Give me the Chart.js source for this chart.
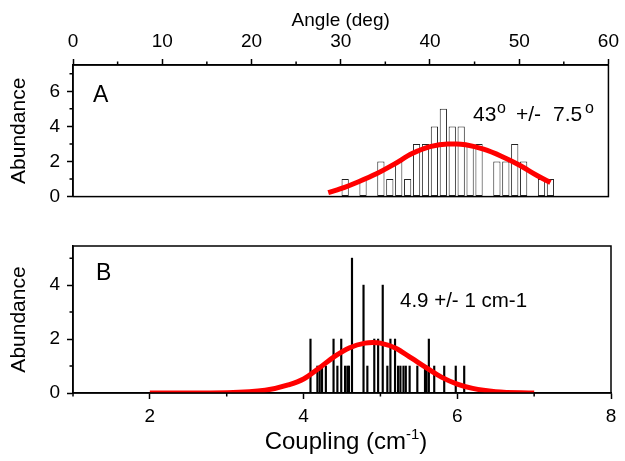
<!DOCTYPE html>
<html>
<head>
<meta charset="utf-8">
<script src="https://cdn.jsdelivr.net/npm/chart.js@4.4.0/dist/chart.umd.min.js"></script>
<style>
  body { margin: 0; background: #fff; }
  #wrap { position: relative; width: 625px; height: 461px; }
  canvas { position: absolute; left: 0; }
  #chartA { top: 0; }
  #chartB { top: 225px; }
</style>
</head>
<body>
<div id="wrap">
  <canvas id="chartA" width="625" height="215"></canvas>
  <canvas id="chartB" width="625" height="236"></canvas>
</div>
<script>
// panel A : angle histogram (1 deg bins) + gaussian fit
var angleBins   = [30.5, 31.5, 32.5, 33.5, 34.5, 35.5, 36.5, 37.5, 38.5, 39.5, 40.5, 41.5,
                   42.5, 43.5, 44.5, 45.5, 46.5, 47.5, 48.5, 49.5, 50.5, 51.5, 52.5, 53.5];
var angleCounts = [1, 0, 1, 0, 2, 1, 2, 1, 3, 3, 4, 5,
                   4, 4, 3, 3, 0, 2, 2, 3, 2, 0, 1, 1];
var angleFitX = [28.6, 30, 32, 34, 36, 38, 40, 42, 43, 44, 46, 48, 50, 52, 53.5];
var angleFitY = [0.22, 0.45, 0.85, 1.3, 1.85, 2.45, 2.85, 3.0, 3.0, 2.95, 2.7, 2.3, 1.8, 1.2, 0.8];
var angleTicks = [0, 10, 20, 30, 40, 50, 60];
var angleMinor = [5, 15, 25, 35, 45, 55];
var abundTicksA = [0, 2, 4, 6];
var abundMinorA = [1, 3, 5, 7];

// panel B : coupling stick histogram + gaussian fit
var couplingPos = [4.09, 4.18, 4.21, 4.24, 4.29, 4.39, 4.44, 4.49, 4.54, 4.57, 4.59, 4.63,
                   4.78, 4.83, 4.92, 4.97, 5.03, 5.09, 5.13, 5.19, 5.23, 5.26, 5.30, 5.33,
                   5.38, 5.48, 5.58, 5.60, 5.63, 5.70, 5.83, 5.98, 6.09];
var couplingCounts = [2, 1, 1, 1, 1, 2, 1, 2, 1, 1, 1, 5,
                      4, 1, 2, 2, 4, 1, 2, 2, 1, 1, 1, 1,
                      1, 1, 1, 1, 2, 1, 1, 1, 1];
var couplingFitX = [2.0, 2.5, 3.0, 3.5, 3.8, 4.0, 4.2, 4.4, 4.6, 4.8, 4.9, 5.0, 5.2, 5.4, 5.6, 5.8, 6.0, 6.2, 6.5, 7.0];
var couplingFitY = [0, 0, 0.01, 0.1, 0.3, 0.52, 0.92, 1.35, 1.68, 1.85, 1.87, 1.85, 1.66, 1.3, 0.93, 0.58, 0.33, 0.17, 0.05, 0];
var couplingTicks = [2, 4, 6, 8];
var couplingMinor = [1, 3, 5, 7];
var abundTicksB = [0, 2, 4];
var abundMinorB = [1, 3, 5];

Chart.defaults.font.family = "'Liberation Sans', Arial, sans-serif";
Chart.defaults.color = '#000';

function xy(xs, ys) {
  return xs.map(function (v, i) { return { x: v, y: ys[i] }; });
}
function tickSetter(vals) {
  return function (scale) { scale.ticks = vals.map(function (v) { return { value: v }; }); };
}

var axisGrid = { drawOnChartArea: false, drawTicks: true, tickLength: 6, tickColor: '#000', tickWidth: 1.5, offset: false };
var axisBorder = { display: true, color: '#000', width: 1.5 };

// box around plot area + minor ticks
var framePlugin = {
  id: 'frame',
  afterDatasetsDraw: function (chart, args, opts) {
    var a = chart.chartArea, ctx = chart.ctx;
    var sx = chart.scales.x, sy = chart.scales.y;
    ctx.save();
    ctx.strokeStyle = '#000';
    ctx.lineWidth = 1.5;
    ctx.strokeRect(a.left, a.top, a.right - a.left, a.bottom - a.top);
    ctx.beginPath();
    opts.xMinor.forEach(function (v) {
      var px = sx.getPixelForValue(v);
      if (opts.xSide === 'top') { ctx.moveTo(px, a.top); ctx.lineTo(px, a.top - 3.5); }
      else { ctx.moveTo(px, a.bottom); ctx.lineTo(px, a.bottom + 3.5); }
    });
    opts.yMinor.forEach(function (v) {
      var py = sy.getPixelForValue(v);
      ctx.moveTo(a.left, py); ctx.lineTo(a.left - 3.5, py);
    });
    ctx.stroke();
    ctx.restore();
  }
};

// free text (labels, fit results)
var textPlugin = {
  id: 'notes',
  afterDraw: function (chart, args, opts) {
    var ctx = chart.ctx;
    ctx.save();
    ctx.fillStyle = '#000';
    ctx.textBaseline = 'alphabetic';
    ctx.textAlign = 'left';
    opts.items.forEach(function (it) {
      ctx.font = it.size + "px 'Liberation Sans', Arial, sans-serif";
      ctx.fillText(it.t, it.x, it.y);
    });
    if (opts.unitTitle) {
      var u = opts.unitTitle;
      var f1 = u.size + "px 'Liberation Sans', Arial, sans-serif";
      var f2 = u.supSize + "px 'Liberation Sans', Arial, sans-serif";
      ctx.font = f1; var w1 = ctx.measureText(u.main).width; var w3 = ctx.measureText(u.tail).width;
      ctx.font = f2; var w2 = ctx.measureText(u.sup).width;
      var x0 = u.cx - (w1 + w2 + w3) / 2;
      ctx.font = f1; ctx.fillText(u.main, x0, u.y);
      ctx.font = f2; ctx.fillText(u.sup, x0 + w1, u.y - u.rise);
      ctx.font = f1; ctx.fillText(u.tail, x0 + w1 + w2, u.y);
    }
    ctx.restore();
  }
};

new Chart(document.getElementById('chartA'), {
  type: 'bar',
  data: {
    datasets: [
      {
        type: 'line',
        data: xy(angleFitX, angleFitY),
        borderColor: '#ff0000',
        borderWidth: 5,
        pointRadius: 0,
        cubicInterpolationMode: 'monotone',
        order: 0
      },
      {
        type: 'bar',
        data: xy(angleBins, angleCounts),
        backgroundColor: '#fff',
        borderColor: '#222',
        borderWidth: 1,
        borderSkipped: false,
        barPercentage: 0.9,
        categoryPercentage: 0.9,
        order: 1
      }
    ]
  },
  options: {
    responsive: false,
    animation: false,
    layout: { padding: { right: 14, bottom: 11, top: 0, left: 0 } },
    plugins: {
      legend: { display: false },
      tooltip: { enabled: false },
      frame: { xSide: 'top', xMinor: angleMinor, yMinor: abundMinorA },
      notes: {
        items: [
          { t: 'A', x: 93, y: 102, size: 23 },
          { t: '43', x: 473, y: 121, size: 21 },
          { t: 'o', x: 497, y: 113, size: 16 },
          { t: '+/-', x: 516, y: 121, size: 21 },
          { t: '7.5', x: 553, y: 121, size: 21 },
          { t: 'o', x: 585, y: 113, size: 16 }
        ]
      }
    },
    scales: {
      x: {
        type: 'linear', position: 'top', min: 0, max: 60, offset: false,
        afterBuildTicks: tickSetter(angleTicks),
        afterFit: function (s) { s.height = 65; },
        grid: axisGrid, border: axisBorder,
        ticks: { font: { size: 19 }, padding: 6, maxRotation: 0, autoSkip: false },
        title: { display: true, text: 'Angle (deg)', font: { size: 19 }, padding: { top: 9, bottom: 0 } }
      },
      y: {
        min: 0, max: 7.5,
        afterBuildTicks: tickSetter(abundTicksA),
        afterFit: function (s) { s.width = 73; },
        grid: axisGrid, border: axisBorder,
        ticks: { font: { size: 19 }, padding: 7 },
        title: { display: true, text: 'Abundance', font: { size: 21 }, padding: { top: 7, bottom: 0 } }
      }
    }
  },
  plugins: [framePlugin, textPlugin]
});

new Chart(document.getElementById('chartB'), {
  type: 'bar',
  data: {
    datasets: [
      {
        type: 'line',
        data: xy(couplingFitX, couplingFitY),
        borderColor: '#ff0000',
        borderWidth: 5,
        pointRadius: 0,
        cubicInterpolationMode: 'monotone',
        order: 0
      },
      {
        type: 'bar',
        data: xy(couplingPos, couplingCounts),
        backgroundColor: '#000',
        borderWidth: 0,
        barThickness: 1.5,
        order: 1
      }
    ]
  },
  options: {
    responsive: false,
    animation: false,
    layout: { padding: { right: 14, top: 21, left: 0, bottom: 0 } },
    plugins: {
      legend: { display: false },
      tooltip: { enabled: false },
      frame: { xSide: 'bottom', xMinor: couplingMinor, yMinor: abundMinorB },
      notes: {
        items: [
          { t: 'B', x: 96, y: 55, size: 23 },
          { t: '4.9 +/- 1 cm-1', x: 400, y: 82, size: 20.5 }
        ],
        unitTitle: { main: 'Coupling (cm', sup: '-1', tail: ')', cx: 346, y: 224, size: 24, supSize: 15, rise: 10 }
      }
    },
    scales: {
      x: {
        type: 'linear', position: 'bottom', min: 1, max: 8, offset: false,
        afterBuildTicks: tickSetter(couplingTicks),
        afterFit: function (s) { s.height = 68; },
        grid: axisGrid, border: axisBorder,
        ticks: { font: { size: 19 }, padding: 6, maxRotation: 0, autoSkip: false }
      },
      y: {
        min: 0, max: 5.45,
        afterBuildTicks: tickSetter(abundTicksB),
        afterFit: function (s) { s.width = 73; },
        grid: axisGrid, border: axisBorder,
        ticks: { font: { size: 19 }, padding: 7 },
        title: { display: true, text: 'Abundance', font: { size: 21 }, padding: { top: 7, bottom: 0 } }
      }
    }
  },
  plugins: [framePlugin, textPlugin]
});
</script>
</body>
</html>
